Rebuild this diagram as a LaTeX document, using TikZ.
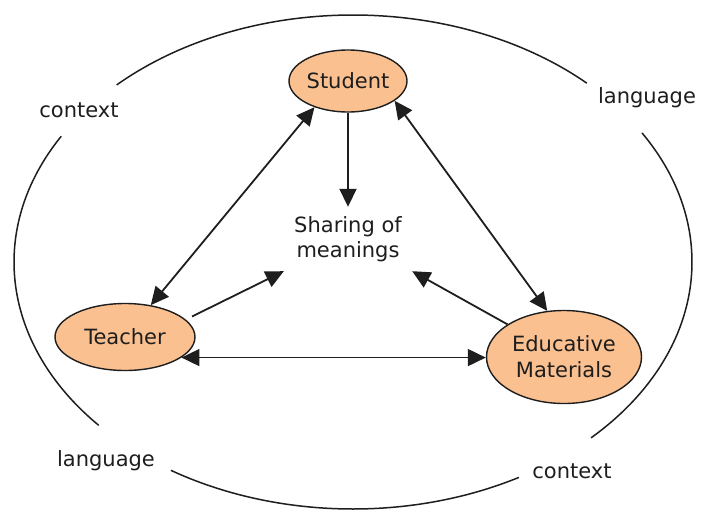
\documentclass[tikz,border=0pt]{standalone}
\usepackage{fontspec}
\setmainfont{DejaVu Sans}
\usetikzlibrary{shapes.geometric,arrows.meta}
\definecolor{peach}{HTML}{FAC090}
\definecolor{ink}{HTML}{1E1E1E}
\tikzset{
  concept/.style={ellipse,draw=ink,line width=1.4pt,fill=peach,inner sep=0pt,
    align=center,text=ink,font=\fontsize{21}{26}\selectfont},
  lab/.style={anchor=base,inner sep=0pt,text=ink,font=\fontsize{21}{26}\selectfont},
  tip/.style={Triangle[length=18pt,width=17pt]},
  link/.style={draw=ink,line width=1.8pt,-{Triangle[length=18pt,width=17pt]}},
  dlink/.style={draw=ink,line width=1.8pt,{Triangle[length=18pt,width=17pt]}-{Triangle[length=18pt,width=17pt]}},
  frame/.style={draw=ink,line width=1.5pt}
}
\begin{document}
\begin{tikzpicture}[x=1pt,y=-1pt]
\useasboundingbox[fill=white] (0,0) rectangle (701,512);
% outer context ellipse, broken at the labels
\draw[frame] plot[domain=225.8:313.6,samples=80] ({353+339*cos(\x)},{262+247*sin(\x)});
\draw[frame] plot[domain=328.5:405.4,samples=80] ({353+339*cos(\x)},{262+247*sin(\x)});
\draw[frame] plot[domain=60.7:122.5,samples=60] ({353+339*cos(\x)},{262+247*sin(\x)});
\draw[frame] plot[domain=138.6:210.6,samples=80] ({353+339*cos(\x)},{262+247*sin(\x)});
% labels
\node[lab] (c1) at (79,117) {context};
\node[lab] (l1) at (647,103) {language};
\node[lab] (l2) at (106,466) {language};
\node[lab] (c2) at (572,478) {context};
% concepts
\node[concept,minimum width=118pt,minimum height=62pt] (S) at (348,81) {Student};
\node[concept,minimum width=140pt,minimum height=67pt] (T) at (125,337) {Teacher};
\node[concept,minimum width=155pt,minimum height=93pt] (E) at (564,357) {Educative\\Materials};
\node[rectangle,inner sep=0pt,minimum width=128pt,minimum height=64pt,align=center,
  text=ink,font=\fontsize{21}{25}\selectfont] (M) at (348,239) {Sharing of\\meanings};
% connectors
\draw[link] (S.south) -- (M.north);
\draw[dlink] (S.218) -- (T.51);
\draw[dlink] (S.-23) -- (E.110);
\draw[link,shorten <=7pt] (T.16) -- (M.south west);
\draw[link] (E.150) -- (M.south east);
\draw[dlink] (T.-20) -- (T.-20 -| E.west);
\end{tikzpicture}
\end{document}
